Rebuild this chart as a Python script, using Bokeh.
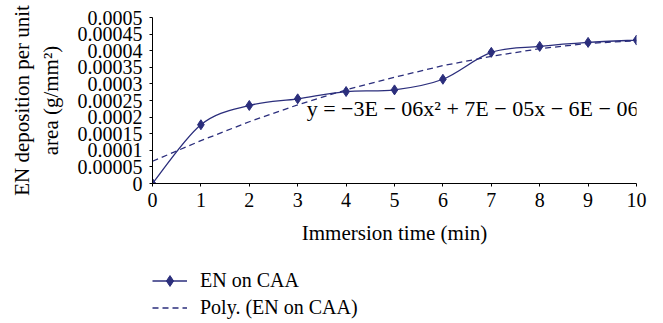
import numpy as np
from bokeh.plotting import figure
from bokeh.layouts import column
from bokeh.models import Range1d, FixedTicker, Label, Legend, LegendItem, ColumnDataSource
from bokeh.embed import file_html
from bokeh.resources import INLINE

# ---- data ----
time_min = [0, 1, 2, 3, 4, 5, 6, 7, 8, 9, 10]
en_on_caa = [0.0, 0.000177, 0.000235, 0.000255, 0.000277, 0.000282,
             0.000314, 0.000395, 0.000413, 0.000425, 0.000432]
poly_trend = [0.000067, 0.000129, 0.000186, 0.000237, 0.000282, 0.00032,
              0.000355, 0.000383, 0.000406, 0.000422, 0.00043]
y_tick_values = [0.0, 0.00005, 0.0001, 0.00015, 0.0002, 0.00025,
                 0.0003, 0.00035, 0.0004, 0.00045, 0.0005]
y_tick_labels = ["0", "0.00005", "0.0001", "0.00015", "0.0002", "0.00025",
                 "0.0003", "0.00035", "0.0004", "0.00045", "0.0005"]
x_tick_values = [0, 1, 2, 3, 4, 5, 6, 7, 8, 9, 10]
series_name = "EN on CAA"
trend_name = "Poly. (EN on CAA)"
equation_text = "y = \u22123E \u2212 06x\u00b2 + 7E \u2212 05x \u2212 6E \u2212 06"
x_label = "Immersion time (min)"
y_label = "EN deposition per unit\narea (g/mm\u00b2)"

COLOR = "#2B2E7C"
FONT = "Liberation Serif"

p = figure(width=663, height=256, output_backend="svg", toolbar_location=None,
           x_range=Range1d(0, 10), y_range=Range1d(0, 0.0005),
           min_border_left=152, min_border_right=27, min_border_top=17,
           min_border_bottom=73)
p.outline_line_color = None
p.grid.visible = False
p.background_fill_color = "white"
p.border_fill_color = "white"

# smooth line (Excel-like) via Bezier segments computed from the data
xs = np.array(time_min, dtype=float)
ys = np.array(en_on_caa, dtype=float)
n = len(xs)
x0, y0, x1, y1, cx0, cy0, cx1, cy1 = [], [], [], [], [], [], [], []
for i in range(n - 1):
    pm = i - 1 if i > 0 else i
    pp = i + 2 if i + 2 < n else i + 1
    x0.append(xs[i]); y0.append(ys[i])
    x1.append(xs[i + 1]); y1.append(ys[i + 1])
    cx0.append(xs[i] + (xs[i + 1] - xs[pm]) / 6.0)
    cy0.append(ys[i] + (ys[i + 1] - ys[pm]) / 6.0)
    cx1.append(xs[i + 1] - (xs[pp] - xs[i]) / 6.0)
    cy1.append(ys[i + 1] - (ys[pp] - ys[i]) / 6.0)
bsrc = ColumnDataSource(dict(x0=x0, y0=y0, x1=x1, y1=y1, cx0=cx0, cy0=cy0, cx1=cx1, cy1=cy1))
p.bezier(x0="x0", y0="y0", x1="x1", y1="y1", cx0="cx0", cy0="cy0",
         cx1="cx1", cy1="cy1", source=bsrc, line_color=COLOR, line_width=1.3)
p.scatter(time_min, en_on_caa, marker="diamond", size=10,
          fill_color=COLOR, line_color=COLOR)
p.line(time_min, poly_trend, line_color=COLOR, line_width=1.3, line_dash="6 4")

# axes
for ax in (p.xaxis[0], p.yaxis[0]):
    ax.axis_line_color = "black"
    ax.axis_line_width = 1
    ax.major_tick_line_color = "black"
    ax.major_tick_in = 0
    ax.major_tick_out = 3
    ax.minor_tick_line_color = None
    ax.major_label_text_font = FONT
    ax.major_label_text_font_size = "20px"
    ax.major_label_text_color = "black"
    ax.axis_label_text_font = FONT
    ax.axis_label_text_font_size = "21px"
    ax.axis_label_text_font_style = "normal"
    ax.axis_label_text_color = "black"

p.xaxis.ticker = FixedTicker(ticks=x_tick_values)
p.yaxis.ticker = FixedTicker(ticks=y_tick_values)
p.yaxis.major_label_overrides = {v: s for v, s in zip(y_tick_values, y_tick_labels)}
p.yaxis.major_label_standoff = 7
p.xaxis.major_label_standoff = 6

p.xaxis.axis_label = x_label
p.xaxis.axis_label_standoff = 11
p.yaxis.axis_label = y_label
p.yaxis.axis_label_standoff = 12

# trendline equation
p.add_layout(Label(x=10.04, y=0.000226, text=equation_text, text_align="right",
                   text_baseline="alphabetic", text_font=FONT,
                   text_font_size="22px", text_color="black"))

# legend strip (separate small figure below the chart); its renderers hold the
# same series but the strip's ranges keep them out of view, so only the legend shows
lg = figure(width=663, height=67, output_backend="svg", toolbar_location=None,
            x_range=Range1d(-3, -2), y_range=Range1d(-3, -2),
            x_axis_location=None, y_axis_location=None, min_border=0)
lg.outline_line_color = None
lg.grid.visible = False
lg_line = lg.line(time_min, en_on_caa, line_color=COLOR, line_width=1.3)
lg_pts = lg.scatter(time_min, en_on_caa, marker="diamond", size=8,
                    fill_color=COLOR, line_color=COLOR)
lg_dash = lg.line(time_min, poly_trend, line_color=COLOR, line_width=1.3, line_dash="6 4")
legend = Legend(items=[LegendItem(label=series_name, renderers=[lg_line, lg_pts]),
                       LegendItem(label=trend_name, renderers=[lg_dash])],
                location=(0, 2), orientation="vertical",
                glyph_width=35, glyph_height=27, label_height=27, spacing=0,
                padding=0, margin=0, label_standoff=13,
                label_text_font=FONT, label_text_font_size="20px",
                label_text_color="black", border_line_color=None,
                background_fill_alpha=0)
lg.add_layout(legend, "center")

layout = column(p, lg, spacing=0)
open("out.html", "w").write(file_html(layout, INLINE))
